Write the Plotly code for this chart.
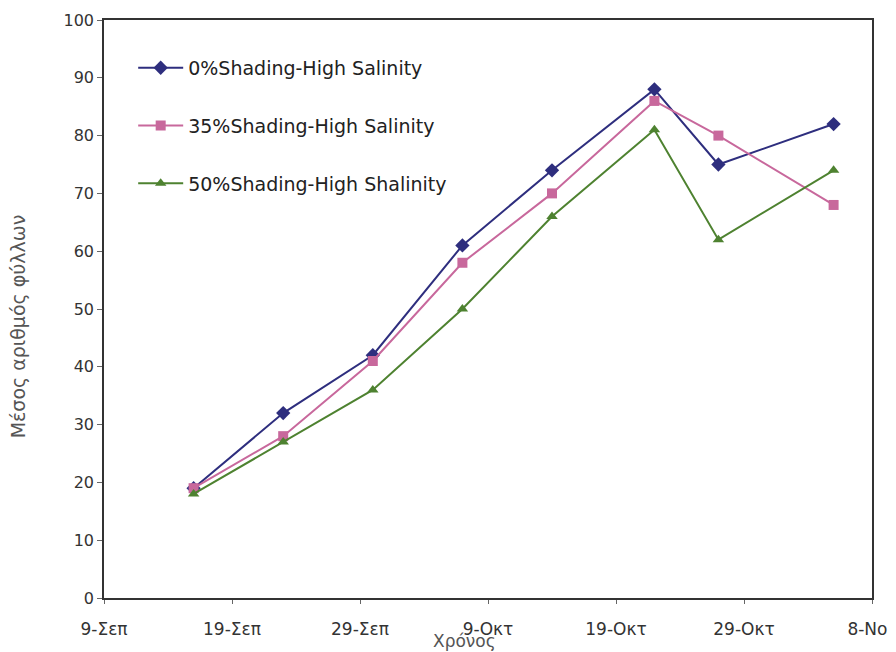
import plotly.graph_objects as go

dates = ["2009-09-16", "2009-09-23", "2009-09-30", "2009-10-07",
         "2009-10-14", "2009-10-22", "2009-10-27", "2009-11-05"]
s0 = [19, 32, 42, 61, 74, 88, 75, 82]
s35 = [19, 28, 41, 58, 70, 86, 80, 68]
s50 = [18, 27, 36, 50, 66, 81, 62, 74]
names = ["0%Shading-High Salinity", "35%Shading-High Salinity", "50%Shading-High Shalinity"]
tick_dates = ["2009-09-09", "2009-09-19", "2009-09-29", "2009-10-09",
              "2009-10-19", "2009-10-29", "2009-11-08"]
tick_text = ["9-Σεπ", "19-Σεπ", "29-Σεπ", "9-Οκτ", "19-Οκτ", "29-Οκτ", "8-Νοε"]

colors = ["#2E2E7E", "#C8689C", "#4E8230"]
symbols = ["diamond", "square", "triangle-up"]

fig = go.Figure()
for i, (nm, ys) in enumerate(zip(names, [s0, s35, s50])):
    fig.add_trace(go.Scatter(
        x=dates, y=ys, name=nm, mode="lines+markers",
        line=dict(color=colors[i], width=2),
        marker=dict(symbol=symbols[i], size=10 if i != 0 else 11, color=colors[i]),
        legendgroup=str(i),
    ))

font_family = "DejaVu Sans, Arial, sans-serif"
fig.update_layout(
    width=888, height=644,
    margin=dict(l=96, r=24, t=12, b=54, autoexpand=False),
    paper_bgcolor="white", plot_bgcolor="white",
    font=dict(family=font_family, color="#333333"),
    showlegend=True,
    legend=dict(
        x=0.038, y=0.95, xanchor="left", yanchor="top",
        bgcolor="rgba(0,0,0,0)", font=dict(size=19, color="#222222"),
        tracegroupgap=30, itemwidth=45,
    ),
    xaxis=dict(
        type="date", range=["2009-09-09", "2009-11-08"],
        tickvals=tick_dates, ticktext=tick_text,
        showgrid=False, zeroline=False, automargin=False,
        showline=True, linecolor="#333333", linewidth=1.5, mirror=True,
        ticks="outside", ticklen=4, tickcolor="#666666",
        ticklabelstandoff=11, ticklabeloverflow="allow",
        tickfont=dict(size=17, color="#333333"),
    ),
    yaxis=dict(
        range=[0, 100], tickvals=list(range(0, 101, 10)),
        showgrid=False, zeroline=False, automargin=False,
        showline=True, linecolor="#333333", linewidth=1.5, mirror=True,
        ticks="outside", ticklen=5, tickcolor="#666666",
        tickfont=dict(size=16, color="#333333"),
    ),
    annotations=[
        dict(text="Χρόνος", xref="paper", yref="paper", x=0.47, y=-0.075,
             xanchor="center", yanchor="middle", showarrow=False,
             font=dict(size=17, color="#555555")),
        dict(text="Μέσος αριθμός φύλλων", xref="paper", yref="paper",
             x=-0.112, y=0.47, xanchor="center", yanchor="middle",
             textangle=-90, showarrow=False,
             font=dict(size=19, color="#555555")),
    ],
)

fig.write_html("out.html")
